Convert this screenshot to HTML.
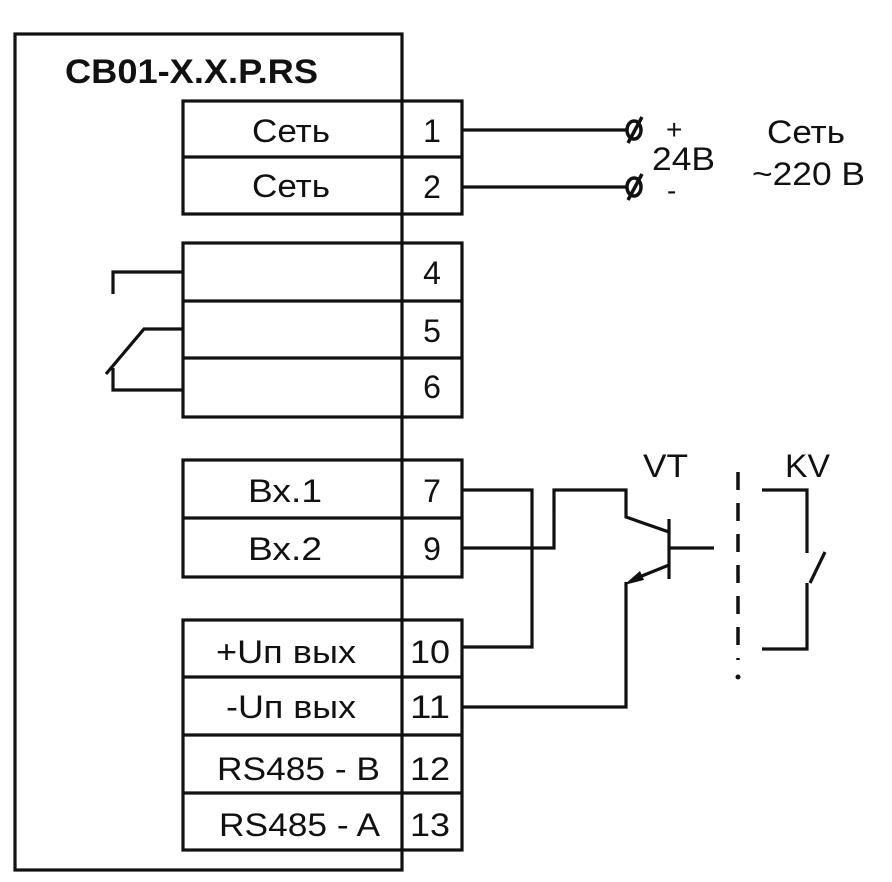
<!DOCTYPE html>
<html><head><meta charset="utf-8"><style>
body{margin:0;background:#fff}
svg{display:block}
text{font-family:"Liberation Sans",sans-serif;font-size:32px;fill:#111}
</style></head><body>
<svg width="892" height="882" viewBox="0 0 892 882" xmlns="http://www.w3.org/2000/svg">
<rect width="892" height="882" fill="#fff"/>
<g stroke="#111" stroke-width="3.2" fill="none">
<rect x="15" y="34" width="387" height="836"/>
<rect x="183" y="101" width="279" height="113"/>
<line x1="183" y1="157" x2="462" y2="157"/>
<rect x="183" y="243" width="279" height="174"/>
<line x1="183" y1="301" x2="462" y2="301"/>
<line x1="183" y1="358" x2="462" y2="358"/>
<rect x="183" y="460" width="279" height="117"/>
<line x1="183" y1="518" x2="462" y2="518"/>
<rect x="183" y="620" width="279" height="230"/>
<line x1="183" y1="677" x2="462" y2="677"/>
<line x1="183" y1="735" x2="462" y2="735"/>
<line x1="183" y1="793" x2="462" y2="793"/>
<line x1="462" y1="130" x2="626" y2="130"/>
<line x1="462" y1="187" x2="626" y2="187"/>
<polyline points="113,294 113,272 183,272"/>
<polyline points="183,329 144,329 106,374"/>
<polyline points="113,368 113,390 183,390"/>
<polyline points="462,490 532,490 532,647 462,647"/>
<polyline points="462,548 554,548 554,490 626,490 626,517 669,532"/>
<line x1="669" y1="519" x2="669" y2="579"/>
<line x1="669" y1="548" x2="714" y2="548"/>
<line x1="669" y1="565" x2="632" y2="580"/>
<polyline points="626,582 626,707 462,707"/>
<line x1="738" y1="472" x2="738" y2="660" stroke-dasharray="18,13" stroke-width="3.5"/>
<polyline points="762,490 807,490 807,553"/>
<line x1="825" y1="552" x2="810" y2="583"/>
<polyline points="807,583 807,649 762,649"/>
</g>
<circle cx="738" cy="677" r="2.5" fill="#111"/>
<polygon points="624,585 640,571 644,580" fill="#111"/>
<g stroke="#111" stroke-width="3.5" fill="none">
<ellipse cx="634" cy="130" rx="7" ry="9"/><line x1="628" y1="143" x2="642" y2="117"/>
<ellipse cx="634" cy="187" rx="7" ry="9"/><line x1="628" y1="200" x2="642" y2="174"/>
</g>
<text x="65" y="83" style="font-weight:bold;font-size:34px" textLength="253" lengthAdjust="spacingAndGlyphs">CB01-X.X.P.RS</text>
<text x="252" y="142" textLength="78" lengthAdjust="spacingAndGlyphs">Сеть</text>
<text x="252" y="197" textLength="78" lengthAdjust="spacingAndGlyphs">Сеть</text>
<text x="432" y="142" text-anchor="middle">1</text>
<text x="432" y="198" text-anchor="middle">2</text>
<text x="432" y="284" text-anchor="middle">4</text>
<text x="432" y="342" text-anchor="middle">5</text>
<text x="432" y="398" text-anchor="middle">6</text>
<text x="248" y="502" textLength="74" lengthAdjust="spacingAndGlyphs">Вх.1</text>
<text x="248" y="560" textLength="74" lengthAdjust="spacingAndGlyphs">Вх.2</text>
<text x="432" y="502" text-anchor="middle">7</text>
<text x="432" y="560" text-anchor="middle">9</text>
<text x="216" y="663" textLength="140" lengthAdjust="spacingAndGlyphs">+Uп вых</text>
<text x="226" y="718" textLength="130" lengthAdjust="spacingAndGlyphs">-Uп вых</text>
<text x="217" y="780" textLength="163" lengthAdjust="spacingAndGlyphs">RS485 - B</text>
<text x="219" y="836" textLength="161" lengthAdjust="spacingAndGlyphs">RS485 - A</text>
<text x="410" y="663" textLength="40" lengthAdjust="spacingAndGlyphs">10</text>
<text x="410" y="718" textLength="40" lengthAdjust="spacingAndGlyphs">11</text>
<text x="410" y="780" textLength="40" lengthAdjust="spacingAndGlyphs">12</text>
<text x="410" y="836" textLength="40" lengthAdjust="spacingAndGlyphs">13</text>
<text x="666" y="139" style="font-size:28px">+</text>
<text x="652" y="170" textLength="63" lengthAdjust="spacingAndGlyphs">24B</text>
<text x="667" y="200" style="font-size:28px">-</text>
<text x="767" y="143" textLength="78" lengthAdjust="spacingAndGlyphs">Сеть</text>
<text x="752" y="185" textLength="113" lengthAdjust="spacingAndGlyphs">~220 B</text>
<text x="643" y="477" textLength="45" lengthAdjust="spacingAndGlyphs">VT</text>
<text x="785" y="477" textLength="45" lengthAdjust="spacingAndGlyphs">KV</text>
</svg>
</body></html>
